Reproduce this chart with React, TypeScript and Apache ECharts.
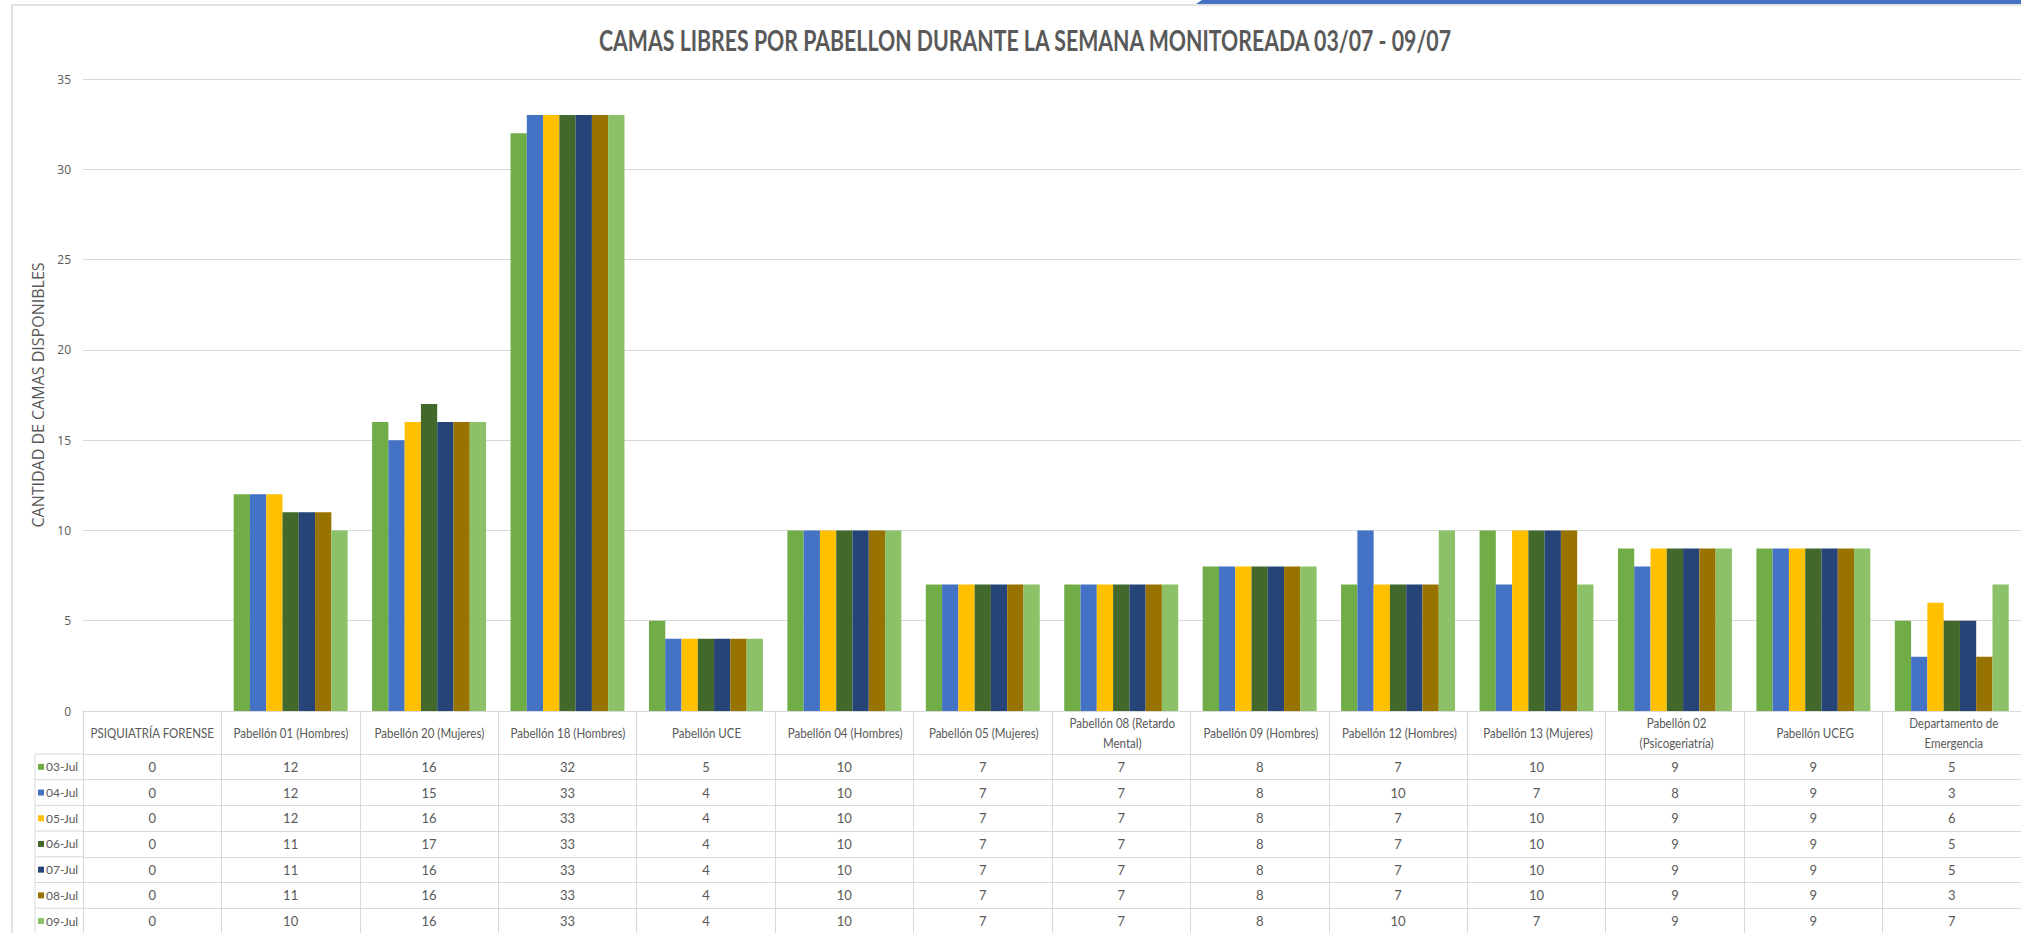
import React, { useEffect, useRef } from "react";
import * as echarts from "echarts";

const categories = [
  "PSIQUIATRÍA FORENSE",
  "Pabellón 01 (Hombres)",
  "Pabellón 20 (Mujeres)",
  "Pabellón 18 (Hombres)",
  "Pabellón UCE",
  "Pabellón 04 (Hombres)",
  "Pabellón 05 (Mujeres)",
  "Pabellón 08 (Retardo Mental)",
  "Pabellón 09 (Hombres)",
  "Pabellón 12 (Hombres)",
  "Pabellón 13 (Mujeres)",
  "Pabellón 02 (Psicogeriatría)",
  "Pabellón UCEG",
  "Departamento de Emergencia",
];

const seriesNames = ["03-Jul", "04-Jul", "05-Jul", "06-Jul", "07-Jul", "08-Jul", "09-Jul"];

const jul03 = [0, 12, 16, 32, 5, 10, 7, 7, 8, 7, 10, 9, 9, 5];
const jul04 = [0, 12, 15, 33, 4, 10, 7, 7, 8, 10, 7, 8, 9, 3];
const jul05 = [0, 12, 16, 33, 4, 10, 7, 7, 8, 7, 10, 9, 9, 6];
const jul06 = [0, 11, 17, 33, 4, 10, 7, 7, 8, 7, 10, 9, 9, 5];
const jul07 = [0, 11, 16, 33, 4, 10, 7, 7, 8, 7, 10, 9, 9, 5];
const jul08 = [0, 11, 16, 33, 4, 10, 7, 7, 8, 7, 10, 9, 9, 3];
const jul09 = [0, 10, 16, 33, 4, 10, 7, 7, 8, 10, 7, 9, 9, 7];

const seriesValues = [jul03, jul04, jul05, jul06, jul07, jul08, jul09];
const seriesColors = ["#70AD47", "#4472C4", "#FFC000", "#43682B", "#264478", "#997300", "#8CC168"];

const TITLE = "CAMAS LIBRES POR PABELLON DURANTE LA SEMANA MONITOREADA 03/07 - 09/07";
const Y_NAME = "CANTIDAD DE CAMAS DISPONIBLES";

export default function App() {
  const ref = useRef<HTMLDivElement>(null);

  useEffect(() => {
    if (!ref.current) return;
    const chart = echarts.init(ref.current, undefined, { renderer: "svg" });

    const W = 2021;
    const H = 933;
    const gridLeft = 83;
    const gridTop = 79;
    const gridWidth = 1940;
    const gridHeight = 632;
    const axisY = gridTop + gridHeight;
    const headerH = 43;
    const rowH = 25.7;
    const rowTop0 = axisY + headerH;
    const colW = gridWidth / categories.length;
    const lineColor = "#D9D9D9";
    const textColor = "#595959";
    const font = "Lato, 'Open Sans', sans-serif";

    const ctx = document.createElement("canvas").getContext("2d")!;
    const measure = (t: string, f: string) => {
      ctx.font = f;
      return ctx.measureText(t).width;
    };

    // title, condensed to the reference width
    const titleFont = "bold 28px Lato";
    const titleScale = 854 / measure(TITLE, titleFont);

    // header labels, condensed like the reference narrow font
    const headFont = "13px Lato";
    const headScale = 115 / measure("Pabellón 01 (Hombres)", headFont);
    const maxW = 128 / headScale;
    const wrap = (s: string) => {
      const words = s.split(" ");
      const lines: string[] = [];
      let cur = "";
      words.forEach((w) => {
        const test = cur ? cur + " " + w : w;
        if (cur && measure(test, headFont) > maxW) {
          lines.push(cur);
          cur = w;
        } else cur = test;
      });
      if (cur) lines.push(cur);
      return lines.join("\n");
    };
    const headerTexts = categories.map((c, i) => ({
      type: "text",
      x: gridLeft + colW * (i + 0.5),
      y: axisY + headerH / 2 + 1,
      scaleX: headScale,
      style: {
        text: wrap(c),
        fill: textColor,
        font: headFont,
        align: "center",
        verticalAlign: "middle",
        lineHeight: 20,
      },
      silent: true,
    }));

    const rowAxes = seriesValues.map((vals, i) => ({
      type: "category",
      gridIndex: 0,
      position: "bottom",
      offset: headerH + rowH * i,
      data: vals.map((v) => String(v)),
      axisLine: { show: true, lineStyle: { color: lineColor, width: 1 } },
      axisTick: { show: false },
      axisLabel: {
        interval: 0,
        margin: rowH / 2,
        verticalAlign: "middle",
        color: textColor,
        fontSize: 13,
        fontFamily: font,
      },
      splitLine: { show: false },
    }));

    const legendCells: any[] = [];
    seriesNames.forEach((_, i) => {
      legendCells.push({
        type: "line",
        shape: { x1: 35, y1: rowTop0 + rowH * i, x2: gridLeft, y2: rowTop0 + rowH * i },
        style: { stroke: lineColor, lineWidth: 1 },
        silent: true,
      });
    });
    legendCells.push({
      type: "line",
      shape: { x1: 35, y1: rowTop0, x2: 35, y2: H },
      style: { stroke: lineColor, lineWidth: 1 },
      silent: true,
    });

    chart.setOption({
      animation: false,
      backgroundColor: "#ffffff",
      textStyle: { fontFamily: font },
      grid: { left: gridLeft, top: gridTop, width: gridWidth, height: gridHeight, containLabel: false },
      legend: {
        orient: "vertical",
        left: 38,
        top: rowTop0 + (rowH - 16) / 2,
        padding: 0,
        itemWidth: 6,
        itemHeight: 6,
        itemGap: rowH - 16,
        icon: "rect",
        selectedMode: false,
        textStyle: { color: textColor, fontSize: 12, lineHeight: 16, fontFamily: font, padding: [0, 0, 0, -3] },
        data: seriesNames,
      },
      xAxis: [
        {
          type: "category",
          data: categories,
          position: "bottom",
          axisLine: { show: true, lineStyle: { color: lineColor, width: 1 } },
          axisTick: { show: true, interval: 0, length: H - axisY, lineStyle: { color: lineColor, width: 1 } },
          axisLabel: { show: false, interval: 0 },
          splitLine: { show: false },
        },
        ...rowAxes,
      ],
      yAxis: {
        type: "value",
        min: 0,
        max: 35,
        interval: 5,
        name: Y_NAME,
        nameLocation: "middle",
        nameGap: 33,
        nameTextStyle: { color: textColor, fontSize: 16, fontFamily: "'Open Sans', sans-serif" },
        axisLine: { show: false },
        axisTick: { show: false },
        axisLabel: { color: textColor, fontSize: 12, margin: 12, fontFamily: "'Open Sans', sans-serif" },
        splitLine: { lineStyle: { color: lineColor, width: 1 } },
      },
      series: seriesNames.map((name, i) => ({
        name,
        type: "bar",
        data: seriesValues[i],
        barGap: "0%",
        barCategoryGap: "17.7%",
        itemStyle: { color: seriesColors[i] },
      })),
      graphic: [
        {
          type: "rect",
          shape: { x: 12, y: 5, width: W + 20, height: H + 20 },
          style: { fill: "none", stroke: lineColor, lineWidth: 1.5 },
          silent: true,
          z: -10,
        },
        {
          type: "polygon",
          shape: { points: [[1196, 4], [1202, 0], [W, 0], [W, 4]] },
          style: { fill: "#4472C4" },
          silent: true,
        },
        {
          type: "text",
          x: 1025,
          y: 40,
          scaleX: titleScale,
          style: {
            text: TITLE,
            fill: textColor,
            font: titleFont,
            align: "center",
            verticalAlign: "middle",
          },
          silent: true,
        },
        ...headerTexts,
        ...legendCells,
      ],
    });

    return () => chart.dispose();
  }, []);

  return (
    <div
      ref={ref}
      style={{ position: "fixed", left: 0, top: 0, width: 2021, height: 933, background: "#fff" }}
    />
  );
}
